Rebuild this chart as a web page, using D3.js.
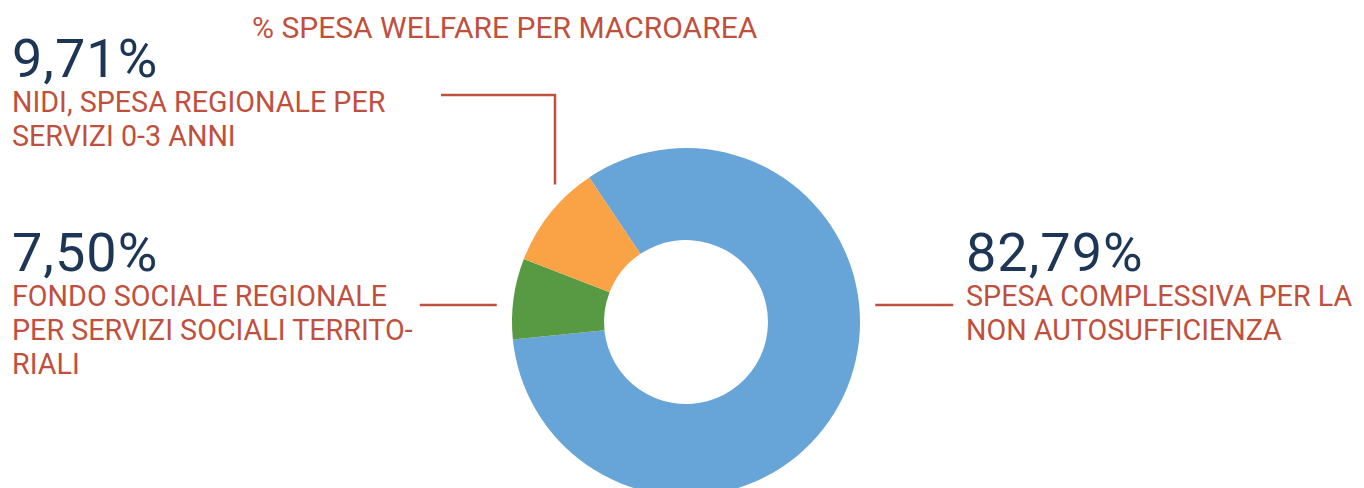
<!DOCTYPE html>
<html lang="it">
<head>
<meta charset="UTF-8">
<title>spesa welfare per macroarea</title>
<script src="https://cdn.jsdelivr.net/npm/d3@7"></script>
<style>
    body{ margin:0; background:#fff; }
    svg{ display:block; }
    .lbl{ font-family:"Roboto",sans-serif; fill:#c0503e; font-size:28.7px; }
    .num{ font-family:"Roboto",sans-serif; fill:#1d3656; font-size:54px; font-weight:400; letter-spacing:1px; }
    .lead{ stroke:#c0503e; stroke-width:2.5; fill:none; }
</style>
</head>
<body>
<svg id="chart"></svg>
<script>
// dati
var title = "% SPESA WELFARE PER MACROAREA";
var categories = ["SPESA COMPLESSIVA PER LA NON AUTOSUFFICIENZA", "FONDO SOCIALE REGIONALE PER SERVIZI SOCIALI TERRITORIALI", "NIDI, SPESA REGIONALE PER SERVIZI 0-3 ANNI"];
var values = [82.79, 7.50, 9.71];
var valueLabels = ["82,79%", "7,50%", "9,71%"];
var labelLines = [
    ["SPESA COMPLESSIVA PER LA", "NON AUTOSUFFICIENZA"],
    ["FONDO SOCIALE REGIONALE", "PER SERVIZI SOCIALI TERRITO-", "RIALI"],
    ["NIDI, SPESA REGIONALE PER", "SERVIZI 0-3 ANNI"]
];
var colors = ["#67a4d7", "#579a43", "#f9a346"];

var width = 1364, height = 488;
var cx = 686, cy = 322, outerR = 174, innerR = 82;

var svg = d3.select("#chart").attr("width", width).attr("height", height);

svg.append("text").attr("class", "lbl")
    .attr("x", 252).attr("y", 38)
    .style("font-size", "30px")
    .text(title);

var pie = d3.pie().sort(null).value(function (d) { return d; })
    .startAngle(-33.8 * Math.PI / 180)
    .endAngle((360 - 33.8) * Math.PI / 180);

var arc = d3.arc().innerRadius(innerR).outerRadius(outerR);

var g = svg.append("g").attr("transform", "translate(" + cx + "," + cy + ")");
g.selectAll("path").data(pie(values)).enter().append("path")
    .attr("d", arc)
    .attr("fill", function (d, i) { return colors[i]; });

// posizione etichette (numero + testo)
var layout = [
    { x: 966, y: 271, lineY: 305, side: 1 },
    { x: 12, y: 271, lineY: 305, side: -1 },
    { x: 12, y: 77, lineY: 95, side: -1, vx: -131 }
];

layout.forEach(function (p, i) {
    svg.append("text").attr("class", "num").attr("x", p.x).attr("y", p.y).text(valueLabels[i]);
    var t = svg.append("text").attr("class", "lbl");
    labelLines[i].forEach(function (l, j) {
        t.append("tspan").attr("x", p.x).attr("y", p.y + 35 + j * 34).text(l);
    });

    var r = outerR + 16;
    if (p.vx === undefined) {
        var dy = p.lineY - cy;
        var ex = cx + p.side * Math.sqrt(r * r - dy * dy);
        var x0 = p.side > 0 ? ex + 78 : ex - 77;
        svg.append("path").attr("class", "lead")
            .attr("d", "M" + ex + "," + p.lineY + "H" + x0);
    } else {
        var vx = cx + p.vx;
        var ey = cy - Math.sqrt(r * r - p.vx * p.vx);
        svg.append("path").attr("class", "lead")
            .attr("d", "M441," + p.lineY + "H" + vx + "V" + ey);
    }
});
</script>
</body>
</html>
